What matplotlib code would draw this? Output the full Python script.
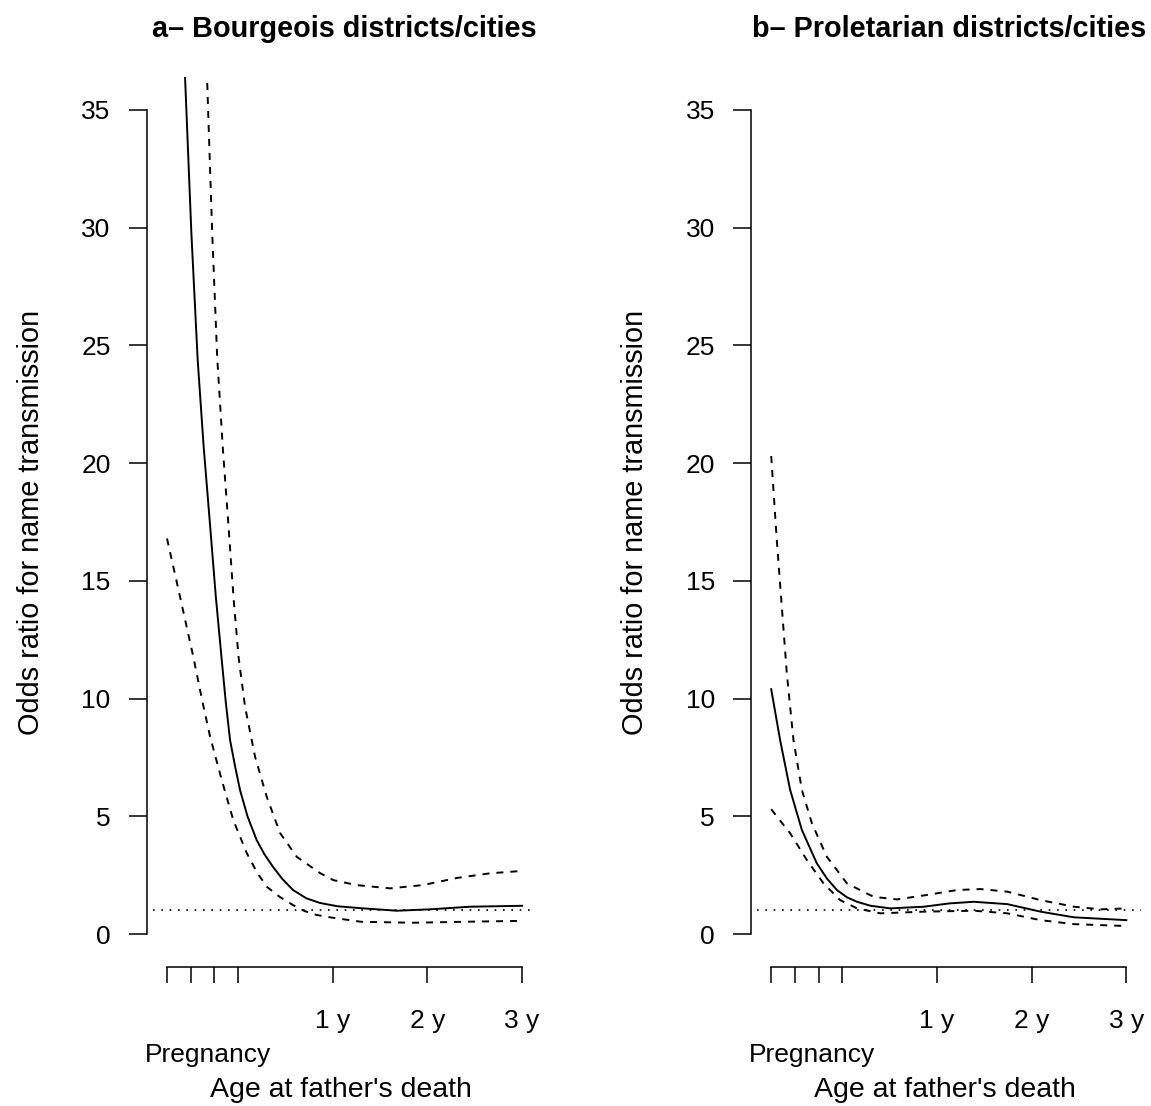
import numpy as np
import matplotlib
matplotlib.use('Agg')
import matplotlib.pyplot as plt

plt.rcParams['font.family'] = ['Liberation Sans', 'DejaVu Sans']

# age at father's death (years, negative = during pregnancy) and odds ratios
# a- bourgeois districts/cities
a_fit_x = [-0.75, -0.65, -0.56, -0.493, -0.426, -0.363, -0.3, -0.236, -0.172, -0.128, -0.084,
           -0.03, 0.021, 0.1, 0.197, 0.28, 0.37, 0.47, 0.581, 0.72, 0.866, 1.05, 1.288, 1.676,
           2.03, 2.45, 3.0]
a_fit_y = [60, 46, 36.46, 29.8, 24.38, 20.7, 17.6, 14.4, 11.64, 9.8, 8.24,
           7.1, 6.12, 5.0, 3.99, 3.38, 2.85, 2.33, 1.87, 1.52, 1.32, 1.18, 1.10, 0.99,
           1.05, 1.16, 1.20]
a_up_x = [-0.75, -0.6, -0.45, -0.327, -0.273, -0.22, -0.16, -0.1, -0.046, 0.007, 0.074, 0.18,
          0.303, 0.444, 0.62, 0.866, 1.006, 1.25, 1.605, 1.954, 2.309, 2.661, 3.0]
a_up_y = [105, 75, 52, 36.36, 29.8, 24.5, 20.6, 17.3, 14.2, 11.72, 9.66, 7.53,
          5.83, 4.29, 3.28, 2.59, 2.29, 2.08, 1.94, 2.08, 2.38, 2.58, 2.68]
a_lo_x = [-0.75, -0.6, -0.472, -0.38, -0.296, -0.172, -0.05, 0.092, 0.2, 0.303, 0.44, 0.581,
          0.7, 0.831, 0.971, 1.3, 1.848, 2.376, 3.0]
a_lo_y = [16.8, 14.1, 11.77, 9.95, 8.4, 6.54, 4.84, 3.44, 2.62, 2.01, 1.58, 1.23,
          0.98, 0.81, 0.71, 0.52, 0.48, 0.52, 0.56]

# b- proletarian districts/cities
b_fit_x = [-0.75, -0.656, -0.55, -0.426, -0.268, -0.16, -0.056, 0.05, 0.156, 0.3, 0.508, 0.861,
           1.13, 1.39, 1.743, 2.095, 2.448, 3.0]
b_fit_y = [10.4, 8.24, 6.12, 4.42, 3.0, 2.35, 1.87, 1.56, 1.37, 1.2, 1.09, 1.16,
           1.3, 1.37, 1.27, 0.95, 0.71, 0.59]
b_up_x = [-0.75, -0.691, -0.638, -0.585, -0.515, -0.426, -0.32, -0.162, 0.05, 0.331, 0.579,
          0.896, 1.214, 1.46, 1.743, 2.095, 2.448, 2.73, 3.0]
b_up_y = [20.3, 16.74, 13.9, 11.07, 8.24, 6.12, 4.70, 3.28, 2.15, 1.58, 1.47, 1.66, 1.87,
          1.91, 1.80, 1.44, 1.16, 1.05, 1.09]
b_lo_x = [-0.75, -0.55, -0.373, -0.197, -0.021, 0.156, 0.402, 0.861, 1.39, 1.743, 2.095,
          2.448, 3.0]
b_lo_y = [5.3, 4.28, 3.14, 2.15, 1.44, 1.09, 0.88, 0.95, 0.99, 0.88, 0.59, 0.42, 0.34]

x_ticks = [-0.75, -0.5, -0.25, 0, 1, 2, 3]
x_ticklabels = ['', '', '', '', '1 y', '2 y', '3 y']
y_ticks = [0, 5, 10, 15, 20, 25, 30, 35]

titles = ['a\u2013 Bourgeois districts/cities', 'b\u2013 Proletarian districts/cities']

W, H = 1151, 1106
fig = plt.figure(figsize=(W / 100, H / 100), dpi=100)

panels = [
    (152.8, (a_fit_x, a_fit_y), (a_up_x, a_up_y), (a_lo_x, a_lo_y)),
    (757.0, (b_fit_x, b_fit_y), (b_up_x, b_up_y), (b_lo_x, b_lo_y)),
]

fs = 19
for i, (left_px, fit, up, lo) in enumerate(panels):
    ax = fig.add_axes([left_px / W, (H - 967) / H, 383.5 / W, 890 / H])
    ax.set_xlim(-0.9, 3.15)
    ax.set_ylim(-1.4, 36.4)

    ax.axhline(1, color='k', lw=1.2, ls=(0, (1, 4)))
    ax.plot(fit[0], fit[1], color='k', lw=1.4)
    ax.plot(up[0], up[1], color='k', lw=1.4, ls=(0, (3.6, 3.6)))
    ax.plot(lo[0], lo[1], color='k', lw=1.4, ls=(0, (3.6, 3.6)))

    for s in ['top', 'right']:
        ax.spines[s].set_visible(False)
    ax.spines['left'].set_position(('outward', 4.3))
    ax.spines['left'].set_bounds(0, 35)
    ax.spines['bottom'].set_bounds(-0.75, 3)
    for s in ['left', 'bottom']:
        ax.spines[s].set_linewidth(1.1)

    ax.set_yticks(y_ticks)
    ax.set_yticklabels([str(v) for v in y_ticks])
    ax.set_xticks(x_ticks)
    ax.set_xticklabels(x_ticklabels)
    ax.tick_params(axis='y', length=13, width=1.1, pad=13, labelsize=fs)
    ax.tick_params(axis='x', length=11.5, width=1.1, pad=19, labelsize=fs)

    ax.text(-0.32, -0.1064, 'Pregnancy', transform=ax.get_xaxis_transform(),
            ha='center', va='baseline', fontsize=fs)
    ax.text(0.49, -0.1457, "Age at father's death", transform=ax.transAxes,
            ha='center', va='baseline', fontsize=20.5)
    ax.text(0.5, 1.0453, titles[i], transform=ax.transAxes,
            ha='center', va='baseline', fontsize=20.8, fontweight='bold')

    fig.text((left_px - 122) / W, (H - 522) / H, 'Odds ratio for name transmission',
             rotation=90, ha='center', va='center', fontsize=20.8)

fig.savefig('out.png', dpi=100)
